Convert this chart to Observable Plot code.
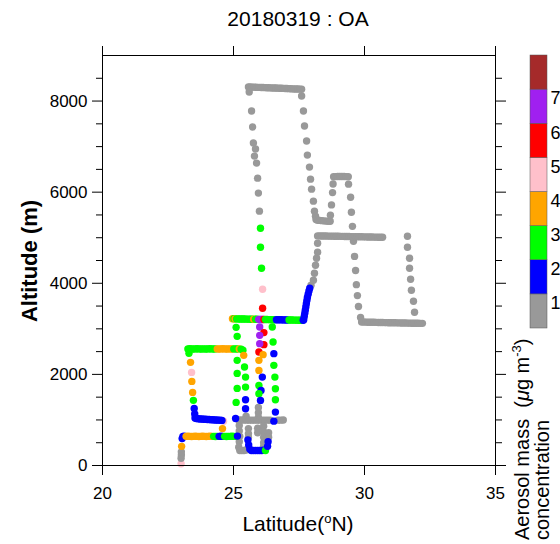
<!DOCTYPE html>
<html><head><meta charset="utf-8">
<script src="https://cdn.jsdelivr.net/npm/d3@7"></script>
<script src="https://cdn.jsdelivr.net/npm/@observablehq/plot@0.6"></script>
<style>
body{margin:0;background:#fff;}
#wrap{position:relative;width:560px;height:544px;overflow:hidden;font-family:"Liberation Sans",Arial,Helvetica,sans-serif;}
#wrap svg{position:absolute;overflow:visible;}
</style></head><body><div id="wrap"></div>
<script>
// ---- data: [latitude (°N), altitude (m), OA (µg m-3)] ----
const legTakeoff = [[23.00,40,4.4],[23.00,160,0.7],[23.01,230,0.6],[23.01,300,0.8],[23.02,420,3.3],[23.04,590,1.4]];
const leg600 = [[23.07,640,1.5],[23.12,645,1.6],[23.19,640,3.2],[23.26,642,3.5],[23.33,640,3.4],[23.40,638,3.6],[23.47,640,3.3],[23.54,642,3.5],[23.61,640,3.4],[23.68,638,3.6],[23.75,640,3.2],[23.82,641,3.5],[23.89,640,3.4],[23.96,638,3.3],[24.03,640,3.5],[24.10,642,3.6],[24.17,640,3.4],[24.24,640,2.5],[24.31,638,2.6],[24.38,640,2.4],[24.45,640,1.6],[24.52,642,1.5],[24.59,640,1.7],[24.66,640,2.5],[24.73,638,2.4],[24.80,640,2.6],[24.87,640,2.5],[24.94,642,2.3],[25.01,640,2.5],[25.08,640,2.6],[25.15,645,1.6]];
const legClimb1 = [[24.58,810,3.4],[24.62,970,4.3]];
const leg1000 = [[24.56,990,1.5],[24.49,995,1.6],[24.42,995,1.5],[24.35,1000,1.7],[24.28,1000,1.5],[24.21,1005,1.6],[24.14,1005,1.5],[24.07,1010,1.4],[24.00,1010,1.6],[23.93,1015,1.5],[23.86,1015,1.7],[23.79,1020,1.5],[23.72,1020,1.6],[23.65,1025,1.5],[23.58,1030,1.5],[23.53,1040,1.6]];
const legClimb2 = [[23.52,1130,1.5],[23.50,1253,1.4],[23.47,1430,2.5],[23.44,1605,3.3],[23.41,1846,3.5],[23.40,2044,4.2],[23.36,2264,3.6],[23.30,2462,2.4]];
const leg2550 = [[23.26,2560,2.5],[23.33,2562,2.6],[23.40,2560,2.4],[23.47,2558,2.5],[23.54,2560,2.6],[23.61,2562,2.5],[23.68,2560,2.4],[23.75,2558,2.5],[23.82,2560,2.6],[23.89,2560,2.5],[23.96,2558,2.4],[24.03,2560,2.5],[24.10,2562,2.6],[24.17,2560,2.5],[24.24,2558,2.4],[24.31,2560,2.5],[24.38,2560,3.4],[24.45,2558,3.5],[24.52,2560,3.6],[24.59,2562,3.3],[24.66,2560,3.5],[24.73,2558,3.4],[24.80,2560,3.6],[24.87,2560,3.5],[24.94,2558,3.4],[25.01,2560,2.5],[25.08,2560,2.6],[25.15,2558,2.4],[25.22,2560,3.5],[25.29,2555,2.5]];
const legColB = [[25.36,2530,2.5],[25.39,2418,3.4],[25.42,2161,2.5],[25.46,1941,2.6],[25.46,1721,2.4],[25.46,1444,1.5],[25.46,1246,1.6]];
const legColA = [[25.10,3033,2.5],[25.14,2835,2.6],[25.14,2308,2.4],[25.14,2022,2.5],[25.14,1692,2.6],[25.10,1385,2.5],[25.08,1033,1.5]];
const leg3200 = [[24.96,3220,3.5],[25.02,3220,2.5],[25.06,3219,3.4],[25.12,3218,2.5],[25.18,3218,2.6],[25.24,3217,2.5],[25.30,3216,2.4],[25.36,3216,2.5],[25.42,3215,2.6],[25.48,3214,2.5],[25.54,3214,2.4],[25.60,3213,2.5],[25.66,3212,2.6],[25.72,3211,2.5],[25.77,3210,3.5],[25.84,3210,2.5],[25.90,3209,2.4],[25.96,3208,6.5],[26.00,3208,6.6],[26.04,3207,6.4],[26.08,3206,6.5],[26.12,3206,6.3],[26.16,3205,5.5],[26.22,3204,2.5],[26.28,3204,2.6],[26.34,3203,2.5],[26.40,3202,2.4],[26.46,3202,2.5],[26.52,3201,2.6],[26.58,3200,2.5],[26.64,3200,1.5],[26.70,3199,1.6],[26.76,3198,1.5],[26.82,3198,1.4],[26.88,3197,1.5],[26.94,3196,1.6],[27.00,3196,1.5],[27.06,3195,1.7],[27.12,3194,2.5],[27.18,3194,2.6],[27.24,3193,2.5],[27.30,3192,2.4],[27.36,3192,2.5],[27.42,3191,2.6],[27.48,3190,2.5],[27.54,3190,2.4],[27.60,3190,2.5],[27.66,3190,1.5]];
const legRampBlue = [[27.68,3200,1.5],[27.70,3270,1.6],[27.72,3340,1.5],[27.74,3410,1.4],[27.76,3480,1.5],[27.78,3550,1.6],[27.80,3620,1.5],[27.82,3690,1.7],[27.85,3760,1.5],[27.88,3830,1.6],[27.91,3890,1.5]];
const legRampGray = [[27.96,3956,0.6],[28.05,4066,0.5],[28.09,4220,0.7],[28.13,4396,0.6],[28.17,4550,0.5],[28.21,4682,0.6],[28.21,4880,0.7]];
const leg5000 = [[28.21,5040,0.5],[28.29,5040,0.6],[28.37,5039,0.5],[28.45,5038,0.7],[28.53,5037,0.6],[28.61,5036,0.5],[28.69,5035,0.6],[28.77,5034,0.5],[28.85,5033,0.7],[28.93,5032,0.6],[29.01,5031,0.5],[29.09,5030,0.6],[29.17,5029,0.5],[29.25,5028,0.6],[29.33,5027,0.7],[29.41,5026,0.5],[29.49,5025,0.6],[29.57,5024,0.5],[29.65,5023,0.6],[29.73,5022,0.7],[29.81,5021,0.5],[29.89,5020,0.6],[29.97,5019,0.5],[30.05,5018,0.6],[30.13,5017,0.7],[30.21,5016,0.5],[30.29,5015,0.6],[30.37,5014,0.5],[30.45,5013,0.6],[30.53,5012,0.7],[30.61,5011,0.5],[30.69,5010,0.6]];
const legRightCol = [[31.64,5033,0.5],[31.64,4792,0.6],[31.72,4550,0.5],[31.72,4330,0.7],[31.76,4088,0.6],[31.79,3846,0.5],[31.87,3605,0.6],[31.91,3363,0.5]];
const leg3150 = [[29.89,3150,0.5],[29.97,3149,0.6],[30.05,3148,0.5],[30.13,3146,0.7],[30.21,3145,0.6],[30.29,3144,0.5],[30.37,3143,0.6],[30.45,3142,0.5],[30.53,3140,0.6],[30.61,3139,0.7],[30.69,3138,0.5],[30.77,3137,0.6],[30.85,3136,0.5],[30.93,3135,0.6],[31.01,3134,0.7],[31.09,3133,0.5],[31.17,3132,0.6],[31.25,3131,0.5],[31.33,3130,0.6],[31.41,3129,0.7],[31.49,3128,0.5],[31.57,3127,0.6],[31.65,3126,0.5],[31.73,3125,0.6],[31.81,3124,0.7],[31.89,3123,0.5],[31.97,3122,0.6],[32.05,3121,0.5],[32.13,3120,0.6],[32.21,3120,0.5]];
const legDescent6300 = [[29.39,6176,0.5],[29.47,5890,0.6],[29.50,5560,0.5],[29.54,5250,0.7],[29.58,4920,0.6],[29.62,4590,0.5],[29.66,4280,0.6],[29.69,3970,0.5],[29.73,3730,0.6],[29.77,3490,0.7],[29.85,3250,0.5]];
const leg6300 = [[28.82,6340,0.5],[28.90,6342,0.6],[28.98,6344,0.5],[29.06,6345,0.7],[29.14,6345,0.6],[29.22,6344,0.5],[29.30,6342,0.6],[29.38,6340,0.5]];
const legURise = [[28.70,5495,0.6],[28.74,5720,0.5],[28.78,5990,0.7],[28.80,6180,0.6]];
const legUBottom = [[28.15,5400,0.5],[28.21,5385,0.6],[28.29,5380,0.5],[28.37,5375,0.7],[28.45,5370,0.6],[28.53,5365,0.5],[28.61,5360,0.6],[28.69,5360,0.5]];
const legRightDescent = [[27.60,8110,0.5],[27.67,7781,0.6],[27.71,7451,0.5],[27.79,7122,0.7],[27.82,6814,0.6],[27.90,6550,0.5],[27.94,6286,0.6],[27.98,6066,0.5],[28.05,5803,0.6],[28.09,5583,0.7],[28.13,5470,0.5]];
const legTop = [[25.57,8310,0.5],[25.64,8308,0.6],[25.71,8306,0.5],[25.78,8305,0.7],[25.85,8303,0.6],[25.92,8301,0.5],[25.99,8300,0.6],[26.06,8298,0.5],[26.13,8296,0.6],[26.20,8295,0.7],[26.27,8293,0.5],[26.34,8291,0.6],[26.41,8290,0.5],[26.48,8288,0.6],[26.55,8286,0.7],[26.62,8285,0.5],[26.69,8283,0.6],[26.76,8281,0.5],[26.83,8280,0.6],[26.90,8278,0.7],[26.97,8276,0.5],[27.04,8274,0.6],[27.11,8272,0.5],[27.18,8270,0.6],[27.25,8268,0.7],[27.32,8266,0.5],[27.39,8265,0.6],[27.46,8263,0.5],[27.53,8262,0.6],[27.60,8260,0.5]];
const legLeftCol = [[25.60,8200,0.6],[25.69,7781,0.5],[25.73,7430,0.6],[25.76,7078,0.7],[25.84,6946,0.5],[25.80,6792,0.6],[25.88,6638,0.5],[25.92,6308,0.6],[25.95,5979,0.7],[25.99,5583,0.5]];
const legColCUpper = [[26.03,5209,2.5],[26.03,4792,2.6],[26.07,4330,2.4],[26.11,3868,4.3],[26.11,3451,5.4]];
const legColCLower = [[26.00,3040,6.5],[26.16,2917,5.5],[26.00,2857,6.4],[26.16,2653,5.6],[26.00,2675,6.3],[25.97,2490,5.4],[26.13,2433,3.5],[25.97,2308,3.6],[25.97,2088,3.4],[26.10,1941,1.5],[25.97,1758,2.5],[26.05,1648,1.6],[25.97,1575,2.4],[26.03,1429,1.5]];
const legColD = [[26.48,3040,2.5],[26.51,2710,2.6],[26.54,2455,1.5],[26.54,2198,2.4],[26.58,1941,2.5],[26.60,1685,2.6],[26.60,1444,2.5],[26.60,1172,1.6],[26.54,974,1.5]];
const legLowGray = [[25.95,1275,0.5],[25.95,1160,0.6],[25.95,1055,0.5],[25.48,1080,0.6],[25.20,1000,0.5],[25.30,1000,0.6],[25.40,1000,0.5],[25.50,995,0.7],[25.60,995,0.6],[25.70,995,0.5],[25.80,995,0.6],[25.90,995,0.5],[26.00,995,0.6],[26.10,995,0.7],[26.20,995,0.5],[26.30,995,0.6],[26.40,995,0.5],[26.70,995,0.6],[26.80,995,0.5],[26.90,1000,0.6],[25.22,880,0.5],[25.22,760,0.6],[25.24,640,0.5],[25.22,520,0.7],[25.20,400,0.6],[25.24,330,0.5],[25.32,330,0.6],[25.40,330,0.5],[25.48,340,0.6],[25.57,810,0.5],[25.57,700,0.6],[25.57,620,0.5],[25.92,820,0.6],[25.92,720,0.5],[26.15,860,0.6],[26.15,740,0.5],[26.15,620,0.6],[26.15,500,0.7],[26.15,420,0.5],[26.34,720,0.6],[26.34,620,0.5]];
const legLowBlue = [[25.55,560,1.5],[25.58,450,1.6],[25.62,360,1.5],[25.68,330,1.4],[25.76,330,1.5],[25.84,330,1.6],[25.92,330,1.5],[26.00,330,1.5],[26.08,330,1.6],[26.16,335,1.5],[26.22,330,2.5],[26.30,420,1.5],[26.32,520,1.6]];

const xTicks = [20, 25, 30, 35];
const yTicks = [0, 2000, 4000, 6000, 8000];
const yMinor = [500, 1000, 1500, 2500, 3000, 3500, 4500, 5000, 5500, 6500, 7000, 7500, 8500];
const levels = [1, 2, 3, 4, 5, 6, 7];
const palette = ["#999999", "#0000ff", "#00ff00", "#ffa500", "#ffc0cb", "#ff0000", "#a020f0", "#a52a2a"];
const barLabels = ["1", "2", "3", "4", "5", "6", "7"];

const legs = [legTop, legLeftCol, legRightDescent, legUBottom, legURise, leg6300, legDescent6300, leg5000, legRampGray, leg3150, legRightCol, legLowGray, legTakeoff, leg600, legClimb1, leg1000, legClimb2, leg2550, legColB, legColA, legColD, legColCLower, legColCUpper, leg3200, legRampBlue, legLowBlue];
const points = legs.flat().map(([lat, alt, oa]) => ({lat, alt, oa}));

const font = '"Liberation Sans", Arial, Helvetica, sans-serif';
const wrap = document.getElementById("wrap");

const main = Plot.plot({
  width: 560, height: 544,
  marginLeft: 102, marginRight: 65, marginTop: 55, marginBottom: 79,
  x: {domain: [20, 35]},
  y: {domain: [0, 9000]},
  color: {type: "threshold", domain: levels, range: palette},
  style: {fontFamily: font, fontSize: "17px", color: "#000", background: "transparent"},
  marks: [
    Plot.dot(points, {x: "lat", y: "alt", fill: "oa", r: 3.7}),
    Plot.frame({stroke: "#000", strokeWidth: 1}),
    Plot.axisX({anchor: "bottom", ticks: xTicks, tickSize: 10, tickPadding: 11, tickFormat: d => String(d), label: null, fontSize: 17}),
    Plot.axisX({anchor: "top", ticks: xTicks, tickSize: 10, tickFormat: () => "", label: null}),
    Plot.axisY({anchor: "left", ticks: yTicks, tickSize: 10, tickPadding: 5, tickFormat: d => String(d), label: null, fontSize: 17}),
    Plot.axisY({anchor: "left", ticks: yMinor, tickSize: 6, tickFormat: () => "", label: null}),
    Plot.axisY({anchor: "right", ticks: yTicks, tickSize: 10, tickFormat: () => "", label: null}),
    Plot.axisY({anchor: "right", ticks: yMinor, tickSize: 6, tickFormat: () => "", label: null})
  ]
});
main.style.left = "0px"; main.style.top = "0px";
wrap.appendChild(main);

const svg = d3.select(main);
svg.append("text").attr("x", 298).attr("y", 26).attr("text-anchor", "middle")
  .attr("font-family", font).attr("font-size", 21).attr("fill", "#000").text("20180319 : OA");
const xl = svg.append("text").attr("x", 298).attr("y", 531).attr("text-anchor", "middle")
  .attr("font-family", font).attr("font-size", 21).attr("fill", "#000");
xl.append("tspan").text("Latitude(");
xl.append("tspan").attr("font-size", 13).attr("dy", -8).text("o");
xl.append("tspan").attr("dy", 8).text("N)");
svg.append("text").attr("transform", "translate(37,261) rotate(-90)").attr("text-anchor", "middle")
  .attr("font-family", font).attr("font-size", 22).attr("font-weight", "bold").attr("fill", "#000").text("Altitude (m)");
const t1 = svg.append("text").attr("transform", "translate(529,540) rotate(-90)").attr("text-anchor", "start")
  .attr("font-family", font).attr("font-size", 20).attr("fill", "#000");
t1.append("tspan").text("Aerosol mass  (");
t1.append("tspan").attr("font-style", "italic").text("μ");
t1.append("tspan").text("g m");
t1.append("tspan").attr("font-size", 13).attr("dy", -8).text("-3");
t1.append("tspan").attr("dy", 8).text(")");
svg.append("text").attr("transform", "translate(549,540) rotate(-90)").attr("text-anchor", "start")
  .attr("font-family", font).attr("font-size", 20).attr("fill", "#000").text("concentration");

// colour bar
const boxes = palette.map((c, i) => ({i, lo: i, hi: i + 1, v: i + 0.5}));
const bar = Plot.plot({
  width: 36, height: 290,
  marginLeft: 5, marginRight: 14, marginTop: 5, marginBottom: 12,
  x: {domain: [0, 1], axis: null},
  y: {domain: [0, 8], axis: null},
  color: {type: "threshold", domain: levels, range: palette},
  style: {fontFamily: font, background: "transparent"},
  marks: [
    Plot.rect(boxes, {x1: 0, x2: 1, y1: "lo", y2: "hi", fill: "v", stroke: "#555", strokeWidth: 0.5}),
    Plot.text(barLabels, {x: 1, y: (d, i) => i + 1, text: d => d, textAnchor: "start", dx: 3, dy: 9, fontSize: 18, fill: "#000"})
  ]
});
bar.style.left = "525px"; bar.style.top = "50px";
wrap.appendChild(bar);
</script></body></html>
